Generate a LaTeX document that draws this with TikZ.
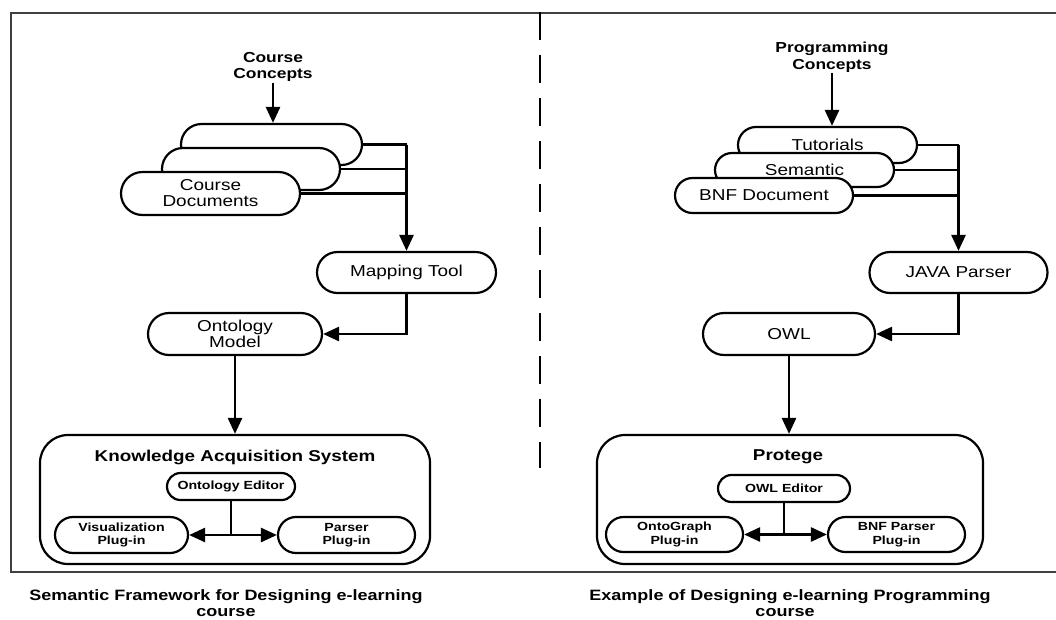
\documentclass[tikz,border=0pt]{standalone}
\usepackage{fontspec}
\setmainfont{Liberation Sans}[FakeStretch=1.2]
\usetikzlibrary{arrows.meta,shapes.misc}
\begin{document}
\begin{tikzpicture}[x=1pt,y=-1pt,
  pill/.style={rounded rectangle, draw, line width=2.2pt, fill=white, inner sep=0pt, align=center,
               font=\fontsize{15.8}{16}\selectfont},
  smallpill/.style={pill, font=\bfseries\fontsize{11.8}{13.5}\selectfont},
  bigbox/.style={draw, line width=2.2pt, rounded corners=28pt, inner sep=0pt},
  titletext/.style={font=\bfseries\fontsize{15.7}{16}\selectfont, inner sep=0pt},
  conc/.style={font=\bfseries\fontsize{14.5}{16.5}\selectfont, align=center, inner sep=1pt},
  captext/.style={font=\bfseries\fontsize{15}{16}\selectfont, inner sep=0pt, anchor=base},
  conn/.style={line width=2.6pt},
  arr/.style={line width=2.6pt, -{Triangle[length=16pt,width=14pt]}},
  framestyle/.style={line width=2pt, draw=black!75}
]
\useasboundingbox (0,0) rectangle (1056,619);

% frame and divider
\draw[framestyle] (1056,13) -- (11,13) -- (11,572) -- (1056,572);
\draw[line width=2.6pt, dash pattern=on 28pt off 15pt] (540,12) -- (540,468);

% ---------------- left panel ----------------
\node[conc] (cc) at (273,67) {Course\\Concepts};
\node[pill, minimum width=181pt, minimum height=41pt] (b1) at (271.5,144.5) {};
\node[pill, minimum width=178pt, minimum height=42pt] (b2) at (251,169) {};
\node[pill, minimum width=179pt, minimum height=43pt] (b3) at (210.5,193.5) {Course\\Documents};
\node[pill, minimum width=179pt, minimum height=41pt] (map) at (406.5,272.5) {Mapping Tool};
\node[pill, minimum width=174pt, minimum height=42pt] (onto) at (235,334) {Ontology\\Model};
\node[bigbox, minimum width=390pt, minimum height=129pt] (kas) at (235,499.5) {};
\node[titletext] (kast) at (235,457) {Knowledge Acquisition System};
\node[smallpill, minimum width=128pt, minimum height=27pt] (oe) at (231,486.5) {Ontology Editor};
\node[smallpill, minimum width=133pt, minimum height=36pt] (vis) at (121.5,535) {Visualization\\Plug-in};
\node[smallpill, minimum width=137pt, minimum height=36pt] (par) at (346.5,535) {Parser\\Plug-in};
\coordinate (j1) at (oe.south |- vis.east);

\draw[arr] (cc.south) -- (cc.south |- b1.north);
\draw[conn] (b1.east) -- (b1.east -| map.north);
\draw[conn] (b2.east) -- (b2.east -| map.north);
\draw[conn] (b3.east) -- (b3.east -| map.north);
\draw[arr] (b1.east -| map.north) -- (map.north);
\draw[arr] (map.south) |- (onto.east);
\draw[arr] (onto.south) -- (onto.south |- kas.north);
\draw[conn] (oe.south) -- (j1);
\draw[arr] (j1) -- (vis.east);
\draw[arr] (j1) -- (par.west);

\node[captext] (capa1) at (226,600) {Semantic Framework for Designing e-learning};
\node[captext] (capa2) at (226,616.5) {course};

% ---------------- right panel ----------------
\node[conc] (pc) at (832,57) {Programming\\Concepts};
\node[pill, minimum width=179pt, minimum height=36pt] (t1) at (827.5,145) {Tutorials};
\node[pill, minimum width=179pt, minimum height=34pt] (t2) at (804.5,170) {Semantic};
\node[pill, minimum width=178pt, minimum height=35pt] (t3) at (764,195.5) {BNF Document};
\node[pill, minimum width=178pt, minimum height=41pt] (java) at (958.5,272.5) {JAVA Parser};
\node[pill, minimum width=172pt, minimum height=42pt] (owl) at (789,334) {OWL};
\node[bigbox, minimum width=386pt, minimum height=129pt] (prot) at (790,499.5) {};
\node[titletext] (prott) at (788,457) {Protege};
\node[smallpill, minimum width=132pt, minimum height=27pt] (oed) at (784,488.5) {OWL Editor};
\node[smallpill, minimum width=137pt, minimum height=35pt] (og) at (674.5,534.5) {OntoGraph\\Plug-in};
\node[smallpill, minimum width=137pt, minimum height=35pt] (bnfp) at (896.5,534.5) {BNF Parser\\Plug-in};
\coordinate (j2) at (oed.south |- og.east);

\draw[arr] (pc.south) -- (pc.south |- t1.north);
\draw[conn] (t1.east) -- (t1.east -| java.north);
\draw[conn] (t2.east) -- (t2.east -| java.north);
\draw[conn] (t3.east) -- (t3.east -| java.north);
\draw[arr] (t1.east -| java.north) -- (java.north);
\draw[arr] (java.south) |- (owl.east);
\draw[arr] (owl.south) -- (owl.south |- prot.north);
\draw[conn] (oed.south) -- (j2);
\draw[arr] (j2) -- (og.east);
\draw[arr] (j2) -- (bnfp.west);

\node[captext] (capb1) at (790,600) {Example of Designing e-learning Programming};
\node[captext] (capb2) at (785,616.5) {course};
\end{tikzpicture}
\end{document}
